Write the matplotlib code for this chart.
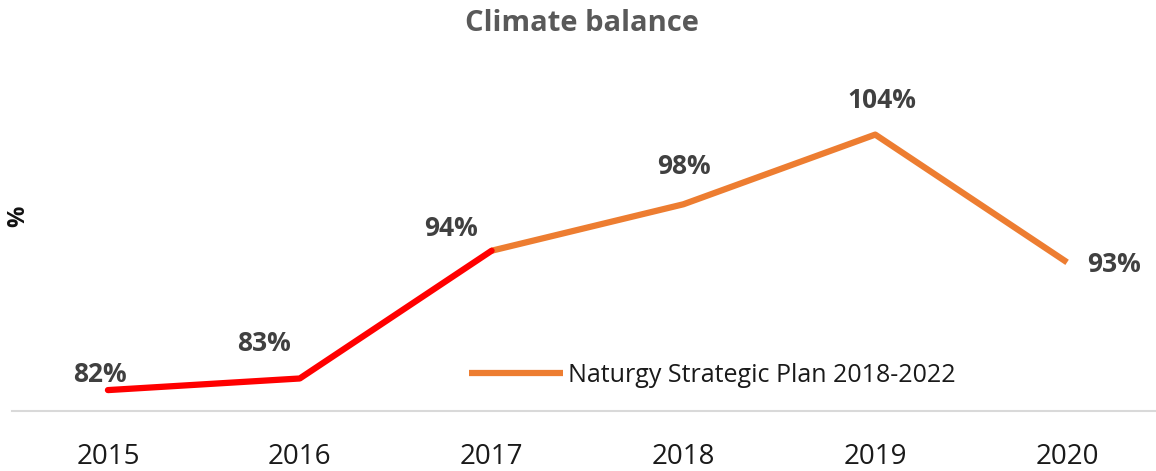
import matplotlib.pyplot as plt
import numpy as np

years = ["2015", "2016", "2017", "2018", "2019", "2020"]
values = [82, 83, 94, 98, 104, 93]
value_labels = ["82%", "83%", "94%", "98%", "104%", "93%"]
plan_label = "Naturgy Strategic Plan 2018-2022"

# label offsets from each point (pixels, to text baseline centre)
label_offsets = [(-8, 8), (-36, 27), (-41, 15), (1, 30), (7, 27), (47, -10)]

W, H = 1156, 471
fig = plt.figure(figsize=(W / 100, H / 100), dpi=100)
ax = fig.add_axes([12 / W, 60 / H, 1151 / W, 331 / H])

x = np.arange(len(years))
ax.plot(x[:3], values[:3], color="#FF0000", lw=4.5, solid_capstyle="round", zorder=3)
orange, = ax.plot(x[2:], values[2:], color="#ED7D31", lw=4.5,
                  solid_capstyle="butt", label=plan_label, zorder=2)

for xi, v, s, (dx, dy) in zip(x, values, value_labels, label_offsets):
    ax.annotate(s, (xi, v), xytext=(dx, dy), textcoords="offset pixels",
                ha="center", va="baseline", fontsize=19, fontweight="bold",
                family="Open Sans", color="#404040")

ax.set_xlim(-0.5, len(years) - 0.5)
ax.set_ylim(80.2, 108.7)
ax.set_xticks(x)
ax.set_xticklabels(years, family="Open Sans", fontsize=20, color="#1a1a1a")
ax.tick_params(axis="x", length=0, pad=23)
ax.set_yticks([])
for side in ["left", "right", "top"]:
    ax.spines[side].set_visible(False)
ax.spines["bottom"].set_color("#D9D9D9")
ax.spines["bottom"].set_linewidth(1.5)

fig.text(582 / W, 1 - 31 / H, "Climate balance", ha="center", va="baseline",
         fontsize=21, fontweight="bold", family="Open Sans", color="#595959")
fig.text(18 / W, 1 - 216 / H, "%", rotation=90, ha="center", va="center",
         fontsize=17, fontweight="bold", family="Open Sans", color="#111111")

leg = ax.legend(handles=[orange], loc="center left",
                bbox_to_anchor=(469 / W, 1 - 375 / H), bbox_transform=fig.transFigure,
                frameon=False, borderpad=0, borderaxespad=0, handlelength=3.76,
                handletextpad=0.2, prop={"family": "Open Sans", "size": 18})
for t in leg.get_texts():
    t.set_color("#1a1a1a")
leg.get_lines()[0].set_linewidth(4.5)

fig.savefig("out.png", dpi=100)
